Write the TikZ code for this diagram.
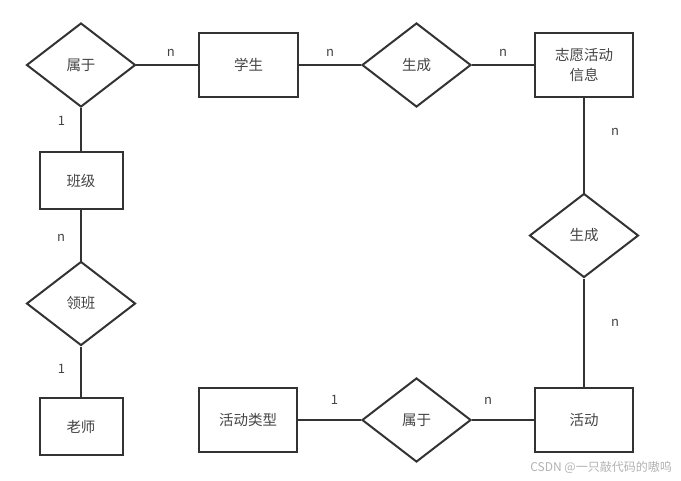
\documentclass[tikz,border=0pt]{standalone}
\usepackage{fontspec}
\setmainfont{Noto Sans CJK SC}
\usepackage{tikz}
\usetikzlibrary{shapes.geometric}
\definecolor{linegray}{HTML}{333333}
\definecolor{textgray}{HTML}{444444}
\tikzstyle{entity} = [draw=linegray, line width=2pt, rectangle, minimum width=98pt, minimum height=64pt, inner sep=1pt, text=textgray, font=\fontsize{14.5}{20}\selectfont]
\tikzstyle{relation} = [draw=linegray, line width=2pt, diamond, minimum width=109pt, minimum height=84pt, inner sep=0pt, text=textgray, font=\fontsize{14.5}{20}\selectfont]
\tikzstyle{card} = [text=textgray, font=\fontsize{13}{15}\selectfont, inner sep=1pt]
\tikzstyle{link} = [draw=linegray, line width=2pt]

\begin{document}
\begin{tikzpicture}[x=1pt, y=-1pt]
    \useasboundingbox (0,0) rectangle (681,480);
    \node[relation] (rel1) at (81,65) {属于};
    \node[entity, minimum width=99pt] (stu) at (248.5,65) {学生};
    \node[relation] (gen1) at (416.5,65) {生成};
    \node[entity, text width=80pt, align=center] (info) at (584,65) {志愿活动\\信息};
    \node[relation] (gen2) at (584,235.5) {生成};
    \node[entity] (act) at (584,420) {活动};
    \node[relation] (rel2) at (416.5,420) {属于};
    \node[entity] (type) at (248,420) {活动类型};
    \node[entity, minimum width=83pt, minimum height=57pt] (cls) at (81,180.5) {班级};
    \node[relation] (lead) at (81,303.5) {领班};
    \node[entity, minimum width=83pt, minimum height=57pt] (tea) at (81,426.5) {老师};

    \draw[link] (rel1) -- node[card, pos=0.56, above=7pt] {n} (stu);
    \draw[link] (stu) -- node[card, pos=0.5, above=7pt] {n} (gen1);
    \draw[link] (gen1) -- node[card, pos=0.5, above=7pt] {n} (info);
    \draw[link] (info) -- node[card, pos=0.36, right=25pt] {n} (gen2);
    \draw[link] (gen2) -- node[card, pos=0.41, right=25pt] {n} (act);
    \draw[link] (rel2) -- node[card, pos=0.26, above=14pt] {n} (act);
    \draw[link] (type) -- node[card, pos=0.58, above=14pt] {1} (rel2);
    \draw[link] (rel1) -- node[card, pos=0.31, left=14pt] {1} (cls);
    \draw[link] (cls) -- node[card, pos=0.55, left=14pt] {n} (lead);
    \draw[link] (lead) -- node[card, pos=0.45, left=14pt] {1} (tea);

    \node[text=gray!60, font=\fontsize{12}{14}\selectfont, anchor=east, inner sep=0pt] (mark) at (672,467) {CSDN @一只敲代码的嗷呜};
\end{tikzpicture}
\end{document}
